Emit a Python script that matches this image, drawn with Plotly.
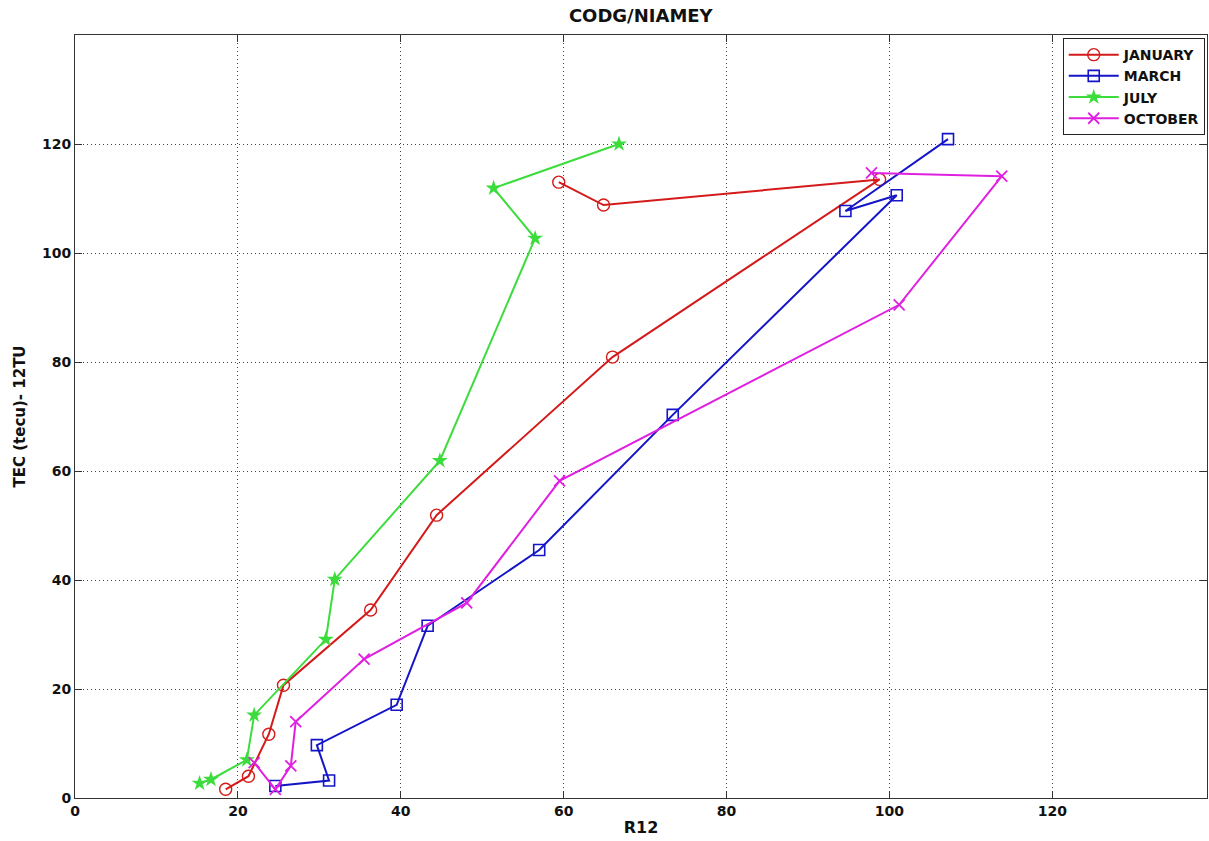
import plotly.graph_objects as go

# Monthly TEC at 12 UT versus smoothed sunspot number R12 (CODG maps, Niamey)
jan_r12 = [18.5, 21.3, 23.8, 25.6, 36.3, 44.4, 66.0, 98.8, 64.9, 59.4]
jan_tec = [1.6, 4.0, 11.7, 20.7, 34.5, 51.9, 80.9, 113.5, 108.8, 113.0]

mar_r12 = [24.6, 31.2, 29.7, 39.5, 43.3, 57.0, 73.4, 100.9, 94.6, 107.2]
mar_tec = [2.2, 3.2, 9.7, 17.1, 31.6, 45.5, 70.3, 110.6, 107.7, 120.9]

jul_r12 = [15.3, 16.7, 21.1, 22.0, 30.8, 31.9, 44.8, 56.5, 51.4, 66.8]
jul_tec = [2.7, 3.4, 7.0, 15.2, 29.1, 40.1, 61.9, 102.7, 111.9, 120.0]

oct_r12 = [22.0, 24.6, 26.5, 27.1, 35.5, 48.1, 59.5, 101.2, 113.8, 97.8]
oct_tec = [6.5, 1.6, 5.9, 14.0, 25.5, 35.8, 58.2, 90.5, 114.1, 114.7]

month_names = ["JANUARY", "MARCH", "JULY", "OCTOBER"]
tick_vals = [0, 20, 40, 60, 80, 100, 120]

series = [
    (jan_r12, jan_tec, "#d41a1a", dict(symbol="circle-open", size=12, line=dict(width=1.4))),
    (mar_r12, mar_tec, "#1515c8", dict(symbol="square-open", size=11, line=dict(width=1.6))),
    (jul_r12, jul_tec, "#3cdc3c", dict(symbol="star", size=12, line=dict(width=0))),
    (oct_r12, oct_tec, "#e020e0", dict(symbol="x-thin-open", size=11, line=dict(width=1.8))),
]

fig = go.Figure()
for name, (xs, ys, col, mk) in zip(month_names, series):
    mk = dict(mk)
    mk["color"] = col
    mk["line"] = dict(mk["line"], color=col)
    fig.add_trace(go.Scatter(
        x=xs, y=ys, mode="lines+markers", name=name,
        line=dict(color=col, width=2),
        marker=mk,
    ))

font = "DejaVu Sans, Verdana, sans-serif"
axis_common = dict(
    showline=True, mirror="allticks", linecolor="#333333", linewidth=1,
    ticks="inside", ticklen=7, tickcolor="#333333", tickwidth=1,
    showgrid=True, gridcolor="#444444", griddash="1px,3px", gridwidth=1,
    zeroline=False,
    tickfont=dict(family=font, size=14, color="#111111", weight="bold"),
    tickvals=tick_vals,
)

fig.update_layout(
    width=1209, height=841,
    margin=dict(l=75, r=2, t=35, b=43),
    paper_bgcolor="white", plot_bgcolor="white",
    font=dict(family=font, color="#111111"),
    title=dict(
        text="<b>CODG/NIAMEY</b>", x=0.53, xanchor="center",
        y=1 - 16 / 841, yref="container", yanchor="middle",
        font=dict(family=font, size=18, color="#111111"),
    ),
    xaxis=dict(
        axis_common, range=[0, 139],
        title=dict(text="<b>R12</b>", standoff=4,
                   font=dict(family=font, size=16, color="#111111")),
    ),
    yaxis=dict(
        axis_common, range=[0, 140],
        title=dict(text="<b>TEC (tecu)- 12TU</b>", standoff=12,
                   font=dict(family=font, size=15, color="#111111")),
    ),
    legend=dict(
        x=0.998, xanchor="right", y=0.996, yanchor="top",
        bgcolor="white", bordercolor="#222222", borderwidth=1,
        font=dict(family=font, size=14, color="#111111", weight="bold"),
        tracegroupgap=0, itemwidth=50,
    ),
    showlegend=True,
)

fig.write_html("out.html")
